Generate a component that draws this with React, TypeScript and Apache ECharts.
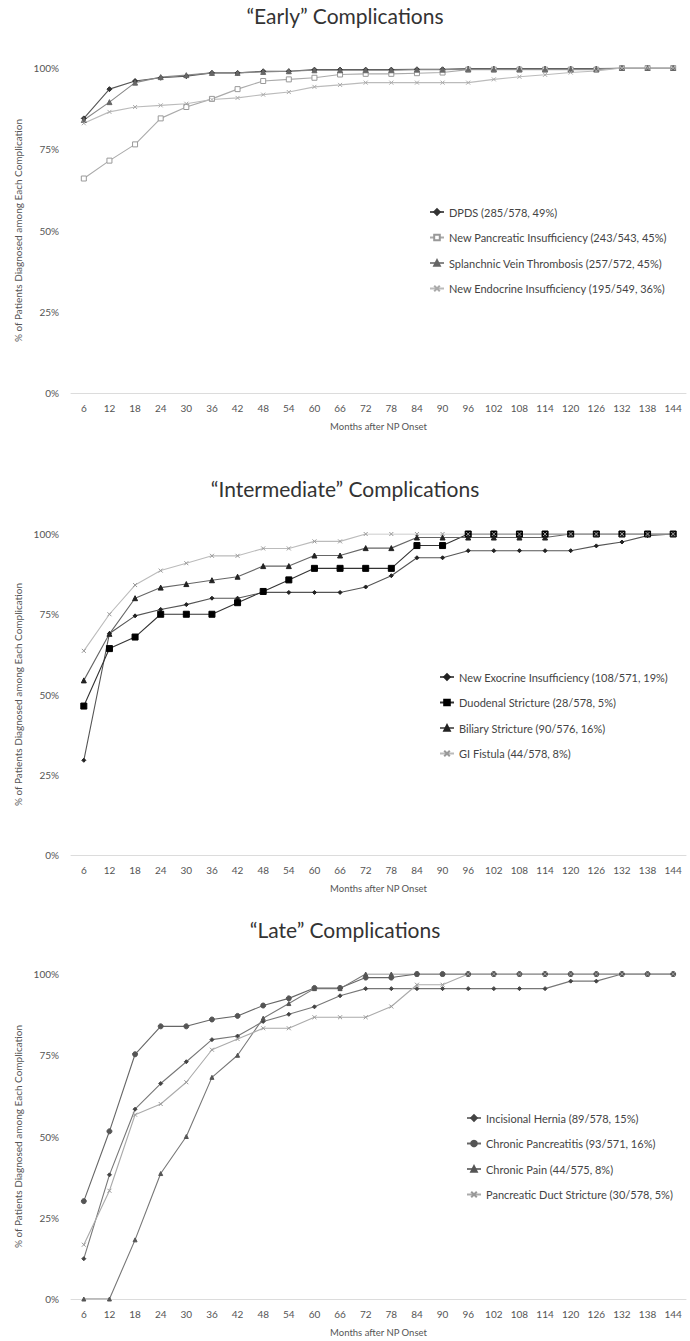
import React, { useEffect, useRef } from "react";
import * as echarts from "echarts";

const months = ["6","12","18","24","30","36","42","48","54","60","66","72","78","84","90","96","102","108","114","120","126","132","138","144"];
const yTicks = [0, 25, 50, 75, 100];

const titles = ["\u201CEarly\u201D Complications", "\u201CIntermediate\u201D Complications", "\u201CLate\u201D Complications"];
const xName = "Months after NP Onset";
const yName = "% of Patients Diagnosed among Each Complication";

// Early
const dpds = [84.5, 93.5, 96, 97, 97.5, 98.5, 98.5, 99, 99, 99.5, 99.5, 99.5, 99.5, 99.6, 99.6, 99.8, 99.8, 99.8, 99.8, 99.8, 99.8, 100, 100, 100];
const npi = [66, 71.5, 76.5, 84.5, 88, 90.5, 93.5, 96, 96.5, 97, 98, 98.2, 98.2, 98.4, 98.6, 99.5, 99.5, 99.5, 99.5, 99.5, 99.5, 100, 100, 100];
const splanchnic = [84, 89.5, 95.5, 97.2, 97.8, 98.5, 98.5, 98.8, 99, 99.3, 99.3, 99.3, 99.3, 99.5, 99.5, 99.6, 99.6, 99.6, 99.6, 99.6, 99.6, 100, 100, 100];
const endocrine = [83, 86.5, 88, 88.5, 89, 90.3, 90.8, 91.8, 92.6, 94.2, 94.8, 95.5, 95.5, 95.5, 95.5, 95.5, 96.5, 97.3, 97.9, 98.6, 99.1, 100, 100, 100];

// Intermediate
const exocrine = [29.5, 69, 74.5, 76.5, 78, 80, 80, 81.8, 81.8, 81.8, 81.8, 83.5, 87, 92.6, 92.6, 94.8, 94.8, 94.8, 94.8, 94.8, 96.3, 97.5, 99.5, 100];
const duodenal = [46.4, 64.3, 67.9, 75, 75, 75, 78.6, 82.1, 85.7, 89.3, 89.3, 89.3, 89.3, 96.4, 96.4, 100, 100, 100, 100, 100, 100, 100, 100, 100];
const biliary = [54.4, 68.9, 80, 83.3, 84.4, 85.6, 86.7, 90, 90, 93.3, 93.3, 95.6, 95.6, 98.9, 98.9, 98.9, 98.9, 98.9, 98.9, 100, 100, 100, 100, 100];
const giFistula = [63.6, 75, 84.1, 88.6, 90.9, 93.2, 93.2, 95.5, 95.5, 97.7, 97.7, 100, 100, 100, 100, 100, 100, 100, 100, 100, 100, 100, 100, 100];

// Late
const hernia = [12.4, 38.2, 58.4, 66.3, 73, 79.8, 80.9, 85.4, 87.6, 89.9, 93.3, 95.5, 95.5, 95.5, 95.5, 95.5, 95.5, 95.5, 95.5, 97.8, 97.8, 100, 100, 100];
const chronicPanc = [30.1, 51.6, 75.3, 83.9, 83.9, 86, 87.1, 90.3, 92.5, 95.7, 95.7, 98.9, 98.9, 100, 100, 100, 100, 100, 100, 100, 100, 100, 100, 100];
const chronicPain = [0, 0, 18.2, 38.6, 50, 68.2, 75, 86.4, 90.9, 95.5, 95.5, 100, 100, 100, 100, 100, 100, 100, 100, 100, 100, 100, 100, 100];
const ductStricture = [16.7, 33.3, 56.7, 60, 66.7, 76.7, 80, 83.3, 83.3, 86.7, 86.7, 86.7, 90, 96.7, 96.7, 100, 100, 100, 100, 100, 100, 100, 100, 100];

const earlyNames = ["DPDS (285/578, 49%)", "New Pancreatic Insufficiency (243/543, 45%)", "Splanchnic Vein Thrombosis (257/572, 45%)", "New Endocrine Insufficiency (195/549, 36%)"];
const interNames = ["New Exocrine Insufficiency (108/571, 19%)", "Duodenal Stricture (28/578, 5%)", "Biliary Stricture (90/576, 16%)", "GI Fistula (44/578, 8%)"];
const lateNames = ["Incisional Hernia (89/578, 15%)", "Chronic Pancreatitis (93/571, 16%)", "Chronic Pain (44/575, 8%)", "Pancreatic Duct Stricture (30/578, 5%)"];

const XPATH = "path://M0,0L10,10M10,0L0,10";
const FONT = "Lato";

export default function App() {
  const ref = useRef<HTMLDivElement>(null);
  useEffect(() => {
    document.body.style.margin = "0";
    const chart = echarts.init(ref.current!, null, { renderer: "svg" });
    const grids = [
      { left: 71, right: 4, top: 68, height: 325 },
      { left: 71, right: 4, top: 534, height: 321 },
      { left: 71, right: 4, top: 974, height: 325 },
    ];
    const xAxes = grids.map((_, i) => ({
      type: "category",
      gridIndex: i,
      data: months,
      boundaryGap: true,
      axisLine: { lineStyle: { color: "#dcdcdc", width: 1 } },
      axisTick: { show: false },
      axisLabel: { color: "#555", fontSize: 10, fontFamily: FONT, margin: 10 },
      name: xName,
      nameLocation: "middle",
      nameGap: 28,
      nameTextStyle: { color: "#555", fontSize: 9.5, fontFamily: FONT },
    }));
    const yAxes = grids.map((_, i) => ({
      type: "value",
      gridIndex: i,
      min: yTicks[0],
      max: yTicks[yTicks.length - 1],
      interval: 25,
      axisLine: { show: false },
      axisTick: { show: false },
      splitLine: { show: false },
      axisLabel: { color: "#555", fontSize: 10, fontFamily: FONT, margin: 12, formatter: "{value}%" },
      name: yName,
      nameLocation: "middle",
      nameGap: 44,
      nameTextStyle: { color: "#555", fontSize: 10, fontFamily: FONT },
    }));
    const mk = (name: string, data: number[], g: number, lineColor: string, symbol: string, symColor: string, size: number, opts: any = {}) => ({
      type: "line",
      name,
      data,
      xAxisIndex: g,
      yAxisIndex: g,
      symbol,
      symbolSize: size,
      showAllSymbol: true,
      lineStyle: { color: lineColor, width: 1.1 },
      itemStyle: { color: symColor, borderColor: symColor, borderWidth: 1, ...(opts.itemStyle || {}) },
      emphasis: { disabled: true },
    });
    const series = [
      mk(earlyNames[0], dpds, 0, "#555", "diamond", "#333", 5),
      mk(earlyNames[1], npi, 0, "#aaa", "rect", "#999", 5, { itemStyle: { color: "#fff", borderColor: "#999" } }),
      mk(earlyNames[2], splanchnic, 0, "#888", "triangle", "#666", 5),
      mk(earlyNames[3], endocrine, 0, "#bbb", XPATH, "#aaa", 4),
      mk(interNames[0], exocrine, 1, "#555", "diamond", "#222", 4),
      mk(interNames[1], duodenal, 1, "#333", "rect", "#000", 6),
      mk(interNames[2], biliary, 1, "#666", "triangle", "#222", 5),
      mk(interNames[3], giFistula, 1, "#bbb", XPATH, "#999", 4),
      mk(lateNames[0], hernia, 2, "#777", "diamond", "#444", 4),
      mk(lateNames[1], chronicPanc, 2, "#666", "circle", "#555", 5),
      mk(lateNames[2], chronicPain, 2, "#777", "triangle", "#555", 4),
      mk(lateNames[3], ductStricture, 2, "#aaa", XPATH, "#999", 4),
    ];
    const legendBase = {
      orient: "vertical",
      padding: 0,
      itemWidth: 14,
      itemHeight: 7,
      itemGap: 11.5,
      textStyle: { color: "#444", fontSize: 11, fontFamily: FONT, lineHeight: 14 },
      selectedMode: false,
    };
    chart.setOption({
      animation: false,
      backgroundColor: "#fff",
      title: titles.map((t, i) => ({
        text: t,
        left: "center",
        top: [0, 473, 914][i],
        textStyle: { color: "#333", fontSize: 21, fontWeight: "normal", fontFamily: FONT },
      })),
      grid: grids,
      xAxis: xAxes,
      yAxis: yAxes,
      legend: [
        { ...legendBase, data: earlyNames, left: 429, top: 205 },
        { ...legendBase, data: interNames, left: 439, top: 670 },
        { ...legendBase, data: lateNames, left: 466, top: 1111 },
      ],
      series,
    });
    return () => chart.dispose();
  }, []);
  return <div ref={ref} style={{ width: 690, height: 1341 }} />;
}
